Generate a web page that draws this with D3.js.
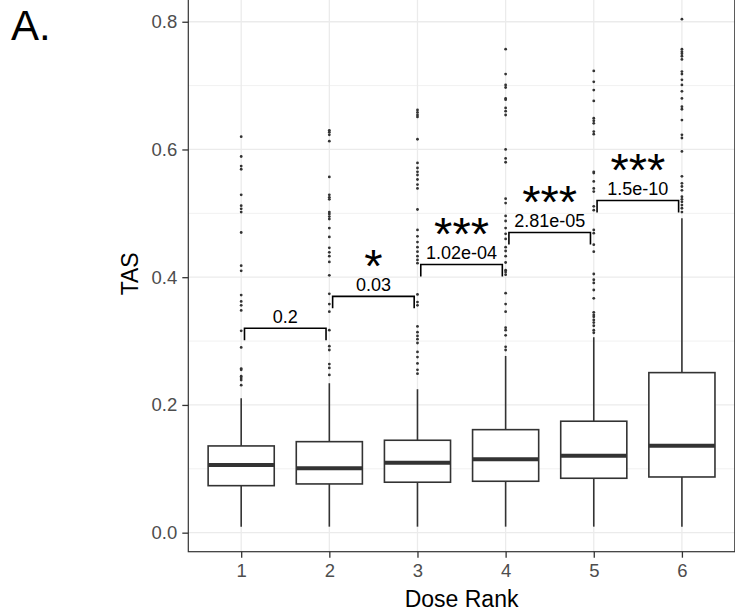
<!DOCTYPE html>
<html>
<head>
<meta charset="utf-8">
<script src="https://cdn.jsdelivr.net/npm/d3@7"></script>
<style>
  body { margin: 0; background: #fff; }
  text { font-family: 'Liberation Sans', Arial, sans-serif; }
</style>
</head>
<body>
<div id="chart-area"></div>
<script>
(() => {

  // data
  const doseRank = ['1', '2', '3', '4', '5', '6'];
  const whiskerLow = [0.0094, 0.0094, 0.0094, 0.0094, 0.0094, 0.0094];
  const boxQ1 = [0.0736, 0.0763, 0.079, 0.0805, 0.0852, 0.0872];
  const boxMedian = [0.106, 0.1008, 0.1096, 0.115, 0.1206, 0.136];
  const boxQ3 = [0.1358, 0.1425, 0.1447, 0.1613, 0.1745, 0.2506];
  const whiskerHigh = [0.2105, 0.234, 0.2246, 0.2767, 0.306, 0.4924];

  const outliers1 = [0.620, 0.589, 0.574, 0.569, 0.529, 0.512, 0.507, 0.502, 0.470, 0.418,
    0.410, 0.372, 0.362, 0.356, 0.348, 0.316, 0.290, 0.257, 0.255, 0.245, 0.242, 0.239, 0.231];
  const outliers2 = [0.630, 0.627, 0.623, 0.613, 0.557, 0.529, 0.525, 0.522, 0.502, 0.499,
    0.495, 0.491, 0.477, 0.463, 0.446, 0.439, 0.433, 0.424, 0.403, 0.374, 0.358, 0.346,
    0.317, 0.292, 0.286, 0.264, 0.258, 0.247];
  const outliers3 = [0.662, 0.658, 0.654, 0.651, 0.616, 0.579, 0.571, 0.565, 0.560, 0.553,
    0.545, 0.539, 0.506, 0.474, 0.464, 0.455, 0.447, 0.440, 0.433, 0.427, 0.422, 0.373,
    0.361, 0.356, 0.323, 0.314, 0.308, 0.303, 0.297, 0.283, 0.275, 0.265, 0.255, 0.249];
  const outliers4 = [0.757, 0.718, 0.701, 0.697, 0.680, 0.678, 0.665, 0.660, 0.654, 0.600,
    0.586, 0.580, 0.523, 0.516, 0.496, 0.488, 0.477, 0.468, 0.460, 0.447, 0.441, 0.433,
    0.423, 0.411, 0.408, 0.404, 0.375, 0.358, 0.346, 0.321, 0.317, 0.309, 0.291, 0.286];
  const outliers5 = [0.723, 0.706, 0.693, 0.676, 0.649, 0.645, 0.641, 0.628, 0.624, 0.565,
    0.563, 0.550, 0.539, 0.534, 0.511, 0.505, 0.474, 0.469, 0.451, 0.440, 0.405, 0.396,
    0.391, 0.380, 0.367, 0.345, 0.341, 0.338, 0.333, 0.329, 0.324, 0.317, 0.313];
  const outliers6 = [0.804, 0.757, 0.753, 0.750, 0.746, 0.741, 0.722, 0.718, 0.709, 0.701,
    0.691, 0.680, 0.667, 0.663, 0.646, 0.623, 0.618, 0.597, 0.558, 0.547, 0.542, 0.536,
    0.526, 0.522, 0.518, 0.513, 0.508, 0.502];
  const outliers = [outliers1, outliers2, outliers3, outliers4, outliers5, outliers6];

  const compareFrom = ['1', '2', '3', '4', '5'];
  const compareTo = ['2', '3', '4', '5', '6'];
  const bracketY = [0.32, 0.37, 0.42, 0.47, 0.52];
  const pLabels = ['0.2', '0.03', '1.02e-04', '2.81e-05', '1.5e-10'];
  const stars = ['', '*', '***', '***', '***'];

  const yTicks = [0, 0.2, 0.4, 0.6, 0.8];
  const yMinor = [0.1, 0.3, 0.5, 0.7];

  const widthSvg = 735;
  const heightSvg = 611;
  const panel = { left: 188.3, right: 734.8, top: -10, bottom: 551.7 };

  const svg = d3.select('#chart-area').append('svg')
    .attr('width', widthSvg)
    .attr('height', heightSvg);

  const scaleX = d3.scalePoint()
    .domain(doseRank)
    .range([panel.left, panel.right])
    .padding(0.6);

  const scaleY = d3.scaleLinear()
    .domain([-0.0298, 0.8497])
    .range([panel.bottom, panel.top]);

  const step = scaleX.step();
  const boxW = step * 0.75;
  const ink = '#333333';

  // grid
  const grid = svg.append('g');
  grid.selectAll('.minor').data(yMinor).enter().append('line')
    .attr('x1', panel.left).attr('x2', panel.right)
    .attr('y1', d => scaleY(d)).attr('y2', d => scaleY(d))
    .attr('stroke', '#ebebeb').attr('stroke-width', 0.7);
  grid.selectAll('.major').data(yTicks).enter().append('line')
    .attr('x1', panel.left).attr('x2', panel.right)
    .attr('y1', d => scaleY(d)).attr('y2', d => scaleY(d))
    .attr('stroke', '#ebebeb').attr('stroke-width', 1.3);
  grid.selectAll('.vmajor').data(doseRank).enter().append('line')
    .attr('x1', d => scaleX(d)).attr('x2', d => scaleX(d))
    .attr('y1', panel.top).attr('y2', panel.bottom)
    .attr('stroke', '#ebebeb').attr('stroke-width', 1.3);

  // boxes
  const boxes = svg.append('g');
  doseRank.forEach((g, i) => {
    const cx = scaleX(g);
    boxes.append('line')
      .attr('x1', cx).attr('x2', cx)
      .attr('y1', scaleY(whiskerLow[i])).attr('y2', scaleY(whiskerHigh[i]))
      .attr('stroke', ink).attr('stroke-width', 1.6);
    boxes.append('rect')
      .attr('x', cx - boxW / 2)
      .attr('y', scaleY(boxQ3[i]))
      .attr('width', boxW)
      .attr('height', scaleY(boxQ1[i]) - scaleY(boxQ3[i]))
      .attr('fill', '#fff')
      .attr('stroke', ink).attr('stroke-width', 1.6);
    boxes.append('line')
      .attr('x1', cx - boxW / 2).attr('x2', cx + boxW / 2)
      .attr('y1', scaleY(boxMedian[i])).attr('y2', scaleY(boxMedian[i]))
      .attr('stroke', ink).attr('stroke-width', 4);
    boxes.selectAll(null).data(outliers[i]).enter().append('circle')
      .attr('cx', cx)
      .attr('cy', d => scaleY(d))
      .attr('r', 1.4)
      .attr('fill', ink);
  });

  // significance brackets
  const sig = svg.append('g');
  const tip = 12;
  const inset = 3.3;
  compareFrom.forEach((a, i) => {
    const x1 = scaleX(a) + inset;
    const x2 = scaleX(compareTo[i]) - inset;
    const y = scaleY(bracketY[i]);
    sig.append('path')
      .attr('d', `M${x1},${y + tip}V${y}H${x2}V${y + tip}`)
      .attr('fill', 'none')
      .attr('stroke', '#000')
      .attr('stroke-width', 1.6);
    sig.append('text')
      .attr('x', (x1 + x2) / 2)
      .attr('y', y - 5.5)
      .attr('text-anchor', 'middle')
      .attr('font-size', '18px')
      .text(pLabels[i]);
    sig.append('text')
      .attr('x', (x1 + x2) / 2)
      .attr('y', y - 14.3)
      .attr('text-anchor', 'middle')
      .attr('font-size', '47px')
      .text(stars[i]);
  });

  // panel border
  svg.append('rect')
    .attr('x', panel.left).attr('y', panel.top)
    .attr('width', panel.right - panel.left)
    .attr('height', panel.bottom - panel.top)
    .attr('fill', 'none')
    .attr('stroke', ink)
    .attr('stroke-width', 1.2);

  // axes
  const axisY = d3.axisLeft(scaleY)
    .tickValues(yTicks)
    .tickFormat(d3.format('.1f'))
    .tickSize(6)
    .tickPadding(5);
  const axisGroupY = svg.append('g')
    .attr('transform', `translate(${panel.left}, 0)`)
    .call(axisY);

  const axisX = d3.axisBottom(scaleX)
    .tickSize(6)
    .tickPadding(6);
  const axisGroupX = svg.append('g')
    .attr('transform', `translate(0, ${panel.bottom})`)
    .call(axisX);

  [axisGroupX, axisGroupY].forEach(ax => {
    ax.select('.domain').remove();
    ax.selectAll('.tick line').attr('stroke', ink).attr('stroke-width', 1.3);
    ax.selectAll('.tick text')
      .attr('fill', '#4d4d4d')
      .attr('font-size', '18.5px')
      .attr('font-family', "'Liberation Sans', Arial, sans-serif");
  });

  svg.append('text')
    .text('TAS')
    .attr('transform', `translate(137.7, ${(panel.top + panel.bottom) / 2 + 3})rotate(-90)`)
    .attr('text-anchor', 'middle')
    .attr('font-size', '23px');

  svg.append('text')
    .text('Dose Rank')
    .attr('x', (panel.left + panel.right) / 2)
    .attr('y', 607)
    .attr('text-anchor', 'middle')
    .attr('font-size', '23px');

  svg.append('text')
    .text('A.')
    .attr('x', 11)
    .attr('y', 40)
    .attr('font-size', '42px');

})();
</script>
</body>
</html>
